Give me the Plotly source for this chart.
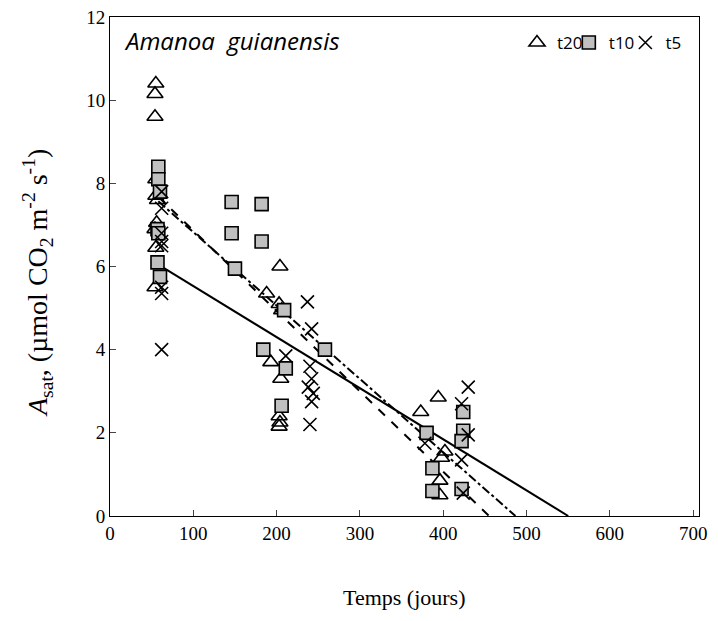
import plotly.graph_objects as go

# ---- data ----
t20_x = [55, 54, 54, 55, 55, 56, 54, 55, 54, 57,
         204, 188, 203, 206, 193, 205, 203, 204, 203,
         373, 394, 402, 398, 396, 396]
t20_y = [10.4, 10.15, 9.6, 8.1, 7.7, 7.05, 6.9, 6.45, 5.5, 7.6,
         6.0, 5.35, 5.1, 4.95, 3.7, 3.3, 2.4, 2.25, 2.15,
         2.5, 2.85, 1.55, 1.4, 0.85, 0.5]

t10_x = [58, 58, 60, 57, 58, 57, 60,
         146, 182, 146, 182, 150, 184, 209, 211, 206, 258,
         380, 387, 387, 424, 424, 422, 422]
t10_y = [8.4, 8.1, 7.8, 6.9, 6.8, 6.1, 5.75,
         7.55, 7.5, 6.8, 6.6, 5.95, 4.0, 4.95, 3.55, 2.65, 4.0,
         2.0, 1.15, 0.6, 2.5, 2.05, 1.8, 0.65]

t5_x = [62, 62, 62, 62, 62, 62, 62, 62,
        211, 237, 242, 240, 242, 238, 244, 242, 240,
        378, 430, 422, 430, 422, 424]
t5_y = [7.8, 7.4, 6.8, 6.6, 6.5, 5.5, 5.35, 4.0,
        3.85, 5.15, 4.5, 3.6, 3.3, 3.1, 2.95, 2.75, 2.2,
        1.75, 3.1, 2.7, 1.95, 1.35, 0.55]

# trend lines: (intercept, slope, dash style)
trend_intercepts = [6.76, 8.80, 8.59]
trend_slopes = [-0.01229, -0.01934, -0.01765]
trend_dashes = ["solid", "dash", "dashdot"]
trend_start = 58

x_ticks = [0, 100, 200, 300, 400, 500, 600, 700]
y_ticks = [0, 2, 4, 6, 8, 10, 12]

fig = go.Figure()

for b, m, d in zip(trend_intercepts, trend_slopes, trend_dashes):
    x_end = -b / m
    fig.add_trace(go.Scatter(
        x=[trend_start, x_end], y=[b + m * trend_start, 0],
        mode="lines", line=dict(color="black", width=2, dash=d),
        showlegend=False, hoverinfo="skip"))

fig.add_trace(go.Scatter(
    x=t20_x, y=t20_y, mode="markers", name="t20", legend="legend",
    marker=dict(symbol="triangle-up-open", size=14, color="black",
                line=dict(width=1.6, color="black"))))
fig.add_trace(go.Scatter(
    x=t10_x, y=t10_y, mode="markers", name="t10", legend="legend2",
    marker=dict(symbol="square", size=13, color="#c0c0c0",
                line=dict(width=1.6, color="black"))))
fig.add_trace(go.Scatter(
    x=t5_x, y=t5_y, mode="markers", name="t5", legend="legend3",
    marker=dict(symbol="x-thin-open", size=13, color="black",
                line=dict(width=1.6, color="black"))))

serif = "Liberation Serif"
leg_font = dict(family="Open Sans", size=17, color="black")


def leg(x):
    return dict(orientation="h", x=x, xanchor="left", y=0.948, yanchor="middle",
                font=leg_font, bgcolor="rgba(0,0,0,0)", itemwidth=30,
                borderwidth=0)


fig.update_layout(
    width=718, height=621,
    margin=dict(l=102, r=27, t=9, b=113),
    plot_bgcolor="white", paper_bgcolor="white",
    font=dict(family=serif, size=19, color="black"),
    showlegend=True,
    legend=leg(0.691),
    legend2=leg(0.779),
    legend3=leg(0.875),
    xaxis=dict(range=[0, 707], tickvals=x_ticks, ticks="inside", ticklen=6,
               showline=True, linecolor="black", linewidth=1, mirror=True,
               showgrid=False, zeroline=False, ticklabeloverflow="allow",
               automargin=False,
               tickfont=dict(family=serif, size=19)),
    yaxis=dict(range=[0, 12], tickvals=y_ticks, ticks="inside", ticklen=6,
               showline=True, linecolor="black", linewidth=1, mirror=True,
               showgrid=False, zeroline=False, ticklabeloverflow="allow",
               automargin=False,
               tickfont=dict(family=serif, size=19)),
    annotations=[
        dict(text="<i>Amanoa\u00a0\u00a0guianensis</i>", xref="paper", yref="paper",
             x=0.02, y=0.952, xanchor="left", yanchor="middle", showarrow=False,
             font=dict(family="Open Sans", size=24, color="black")),
        dict(text="<i>A</i><sub>sat</sub>, (µmol CO<sub>2</sub> m<sup>-2</sup> s<sup>-1</sup>)",
             xref="paper", yref="paper", x=0, xshift=-73, y=0.501, yshift=-17,
             xanchor="center", yanchor="middle", textangle=-90, showarrow=False,
             font=dict(family=serif, size=28, color="black")),
        dict(text="Temps (jours)", xref="paper", yref="paper", x=0.5, y=0, yshift=-81,
             xanchor="center", yanchor="middle", showarrow=False,
             font=dict(family=serif, size=22, color="black")),
    ],
)

fig.write_html("out.html")
